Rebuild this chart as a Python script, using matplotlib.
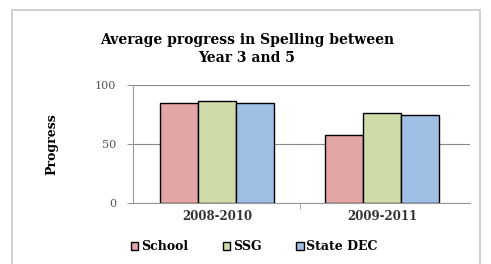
import matplotlib.pyplot as plt
from matplotlib.patches import Rectangle

# Data
periods = ["2008-2010", "2009-2011"]
series = ["School", "SSG", "State DEC"]
school = [85, 57.5]
ssg = [86.5, 76]
state_dec = [84.5, 74.5]
colors = ["#e2a6a6", "#cfdca9", "#a0bfe4"]

plt.rcParams['font.family'] = ['DejaVu Serif']

fig = plt.figure(figsize=(4.91, 2.64), dpi=100)
fig.patches.append(Rectangle((12 / 491, -0.1), 468 / 491, 1.1 - 10 / 264,
                             transform=fig.transFigure, fill=False,
                             edgecolor="#c8c8c8", linewidth=1.2))

ax = fig.add_axes([0.271, 0.231, 0.686, 0.447])
x = [0, 1]
w = 0.23
for i, (vals, name) in enumerate(zip([school, ssg, state_dec], series)):
    ax.bar([p + (i - 1) * w for p in x], vals, width=w, color=colors[i],
           edgecolor="black", linewidth=1.0, label=name, zorder=3)

ax.set_xlim(-0.51, 1.53)
ax.set_ylim(0, 100)
ax.set_yticks([0, 50, 100])
ax.set_yticklabels(["0", "50", "100"], fontsize=8, color="#555555")
ax.set_xticks(x)
ax.set_xticklabels(periods, fontsize=8.5, fontweight="bold", color="#333333")
ax.tick_params(axis="x", length=0, pad=5)
ax.set_xticks([0.5], minor=True)
ax.tick_params(axis="x", which="minor", length=4, color="#999999")
ax.tick_params(axis="y", length=4, color="#999999", pad=8)
ax.grid(axis="y", color="#888888", linewidth=0.8, zorder=0)
for s in ["top", "right"]:
    ax.spines[s].set_visible(False)
ax.spines["left"].set_color("#999999")
ax.spines["bottom"].set_color("#999999")

ax.set_ylabel("Progress", fontsize=9, fontweight="bold", labelpad=26)
fig.text(0.503, 0.815, "Average progress in Spelling between\nYear 3 and 5",
         ha="center", va="center", fontsize=10, fontweight="bold",
         linespacing=1.35)

fig.legend(loc="center", bbox_to_anchor=(0.518, 0.065), ncol=3, frameon=False,
           prop={"weight": "bold", "size": 9},
           handlelength=0.6, handleheight=0.6, handletextpad=0.2,
           columnspacing=2.8)

fig.savefig("out.png", dpi=100)
